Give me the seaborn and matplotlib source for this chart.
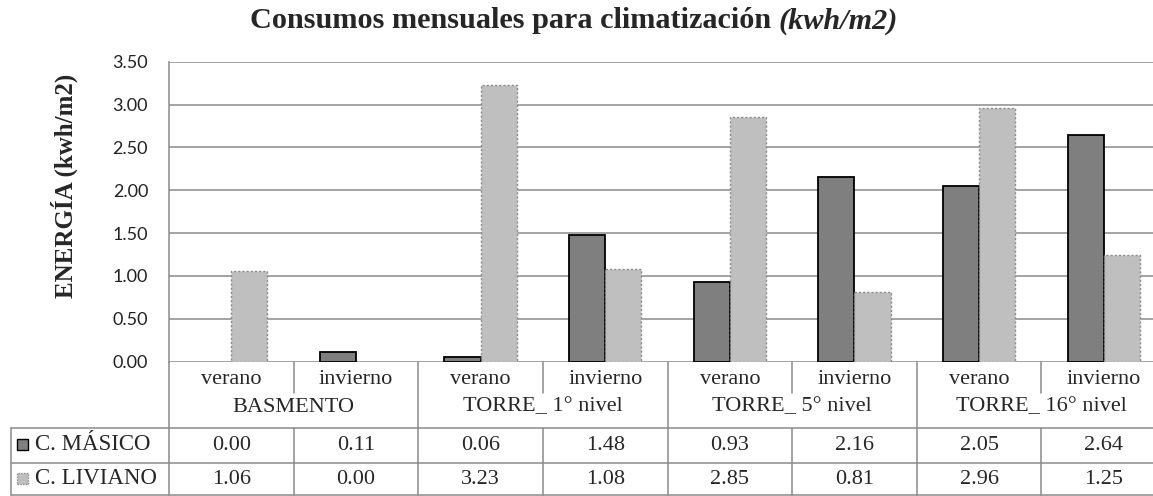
import numpy as np
import pandas as pd
import matplotlib
matplotlib.use("Agg")
import matplotlib.pyplot as plt
import matplotlib.transforms as mtransforms
from matplotlib.patches import Rectangle
import seaborn as sns

# datos
grupos = ["BASMENTO", "TORRE_ 1° nivel", "TORRE_ 5° nivel", "TORRE_ 16° nivel"]
estaciones = ["verano", "invierno"]
series = ["C. MÁSICO", "C. LIVIANO"]
masico = [0.00, 0.11, 0.06, 1.48, 0.93, 2.16, 2.05, 2.64]
liviano = [1.06, 0.00, 3.23, 1.08, 2.85, 0.81, 2.96, 1.25]
yticks = [0.0, 0.5, 1.0, 1.5, 2.0, 2.5, 3.0, 3.5]

cats = [f"{g}|{e}" for g in grupos for e in estaciones]
df = pd.DataFrame({
    "cat": cats * 2,
    "serie": [series[0]] * len(cats) + [series[1]] * len(cats),
    "valor": masico + liviano,
})

sns.set_style("white")
serif = ["Liberation Serif", "DejaVu Serif"]
plt.rcParams["font.family"] = ["Lato", "DejaVu Sans"]

W, H = 1153, 496
fig = plt.figure(figsize=(W / 100, H / 100), dpi=100)
# eje: izquierda 169px, y=0 en 361.7px, y=3.5 en 61.7px (el borde derecho queda recortado)
ax = fig.add_axes([169 / W, (H - 361.7) / H, 997 / W, 300 / H])

colores = ["#7f7f7f", "#bfbfbf"]
sns.barplot(data=df, x="cat", y="valor", hue="serie", order=cats, hue_order=series,
            palette=colores, width=0.58, saturation=1, legend=False, ax=ax)

for patch in ax.containers[0]:
    patch.set_edgecolor("black")
    patch.set_linewidth(1.3)
for patch in ax.containers[1]:
    patch.set_edgecolor("#8a8a8a")
    patch.set_linewidth(1.0)
    patch.set_linestyle((0, (1.5, 1.5)))
# barras de valor cero no se ven
for cont in ax.containers:
    for patch in cont:
        if patch.get_height() == 0:
            patch.set_edgecolor("none")

ax.set_xlim(-0.5, 7.5)
ax.set_ylim(0, 3.5)
ax.set_yticks(yticks)
ax.set_yticklabels([f"{v:.2f}" for v in yticks], fontsize=13, color="#222222")
ax.tick_params(axis="y", length=0, pad=15)
ax.set_xticks([])
ax.set_xlabel("")
ax.yaxis.grid(True, color="#8a8a8a", linewidth=1.1)
ax.set_axisbelow(True)
for s in ["top", "right", "bottom"]:
    ax.spines[s].set_visible(False)
ax.spines["left"].set_color("#8a8a8a")
ax.spines["left"].set_linewidth(1.1)

# tabla de datos bajo el eje
tr = mtransforms.blended_transform_factory(ax.transData, ax.transAxes)


def ay(py):
    return (361.7 - py) / 300


ax.set_ylabel("ENERGÍA (kwh/m2)", family=serif, fontweight="bold", fontsize=18)
ax.yaxis.set_label_coords((78 - 169) / 997, ay(186))

x_borde = -0.5 - 158 / 124.6
lc = "#8a8a8a"
lw = 1.1

for k in range(9):
    xk = k - 0.5
    if k % 2 == 0:
        ax.plot([xk, xk], [ay(361.7), ay(495)], transform=tr, color=lc, lw=lw, clip_on=False)
    else:
        ax.plot([xk, xk], [ay(361.7), ay(393)], transform=tr, color=lc, lw=lw, clip_on=False)
        ax.plot([xk, xk], [ay(428), ay(495)], transform=tr, color=lc, lw=lw, clip_on=False)
for py in [428, 463, 495]:
    ax.plot([x_borde, 8.0], [ay(py), ay(py)], transform=tr, color=lc, lw=lw, clip_on=False)
ax.plot([x_borde, x_borde], [ay(428), ay(495)], transform=tr, color=lc, lw=lw, clip_on=False)

fs = 16
for i, c in enumerate(cats):
    ax.text(i, ay(379), c.split("|")[1], transform=tr, ha="center", va="center",
            family=serif, fontsize=fs, clip_on=False)
    ax.text(i, ay(445), f"{masico[i]:.2f}", transform=tr, ha="center", va="center",
            family=serif, fontsize=fs, clip_on=False)
    ax.text(i, ay(479), f"{liviano[i]:.2f}", transform=tr, ha="center", va="center",
            family=serif, fontsize=fs, clip_on=False)
for g, nombre in enumerate(grupos):
    ax.text(2 * g + 0.5, ay(407), nombre, transform=tr, ha="center", va="center",
            family=serif, fontsize=fs, clip_on=False)

# claves de la leyenda en la tabla
for j, (nombre, py) in enumerate(zip(series, [445, 479])):
    ec = "black" if j == 0 else "#8a8a8a"
    ls = "-" if j == 0 else (0, (1, 1))
    fig.add_artist(Rectangle((17 / W, (H - py - 5) / H), 11 / W, 11 / H,
                             transform=fig.transFigure, facecolor=colores[j],
                             edgecolor=ec, linewidth=1.0, linestyle=ls))
    fig.text(35 / W, (H - py) / H, nombre, ha="left", va="center",
             family=serif, fontsize=16.5)

# titulo con parte en cursiva
t1 = fig.text(0, 22 / H, "Consumos mensuales para climatización ", ha="left", va="center",
              family=serif, fontweight="bold", fontsize=21.8)
t2 = fig.text(0, 22 / H, "(kwh/m2)", ha="left", va="center",
              family=serif, fontweight="bold", fontstyle="italic", fontsize=21.8)
fig.canvas.draw()
r = fig.canvas.get_renderer()
w1 = t1.get_window_extent(r).width
w2 = t2.get_window_extent(r).width
x0 = 574 - (w1 + w2) / 2
t1.set_x(x0 / W)
t2.set_x((x0 + w1) / W)
t1.set_y(1 - 21 / H)
t2.set_y(1 - 21 / H)

fig.savefig("out.png", dpi=100, facecolor="white")
